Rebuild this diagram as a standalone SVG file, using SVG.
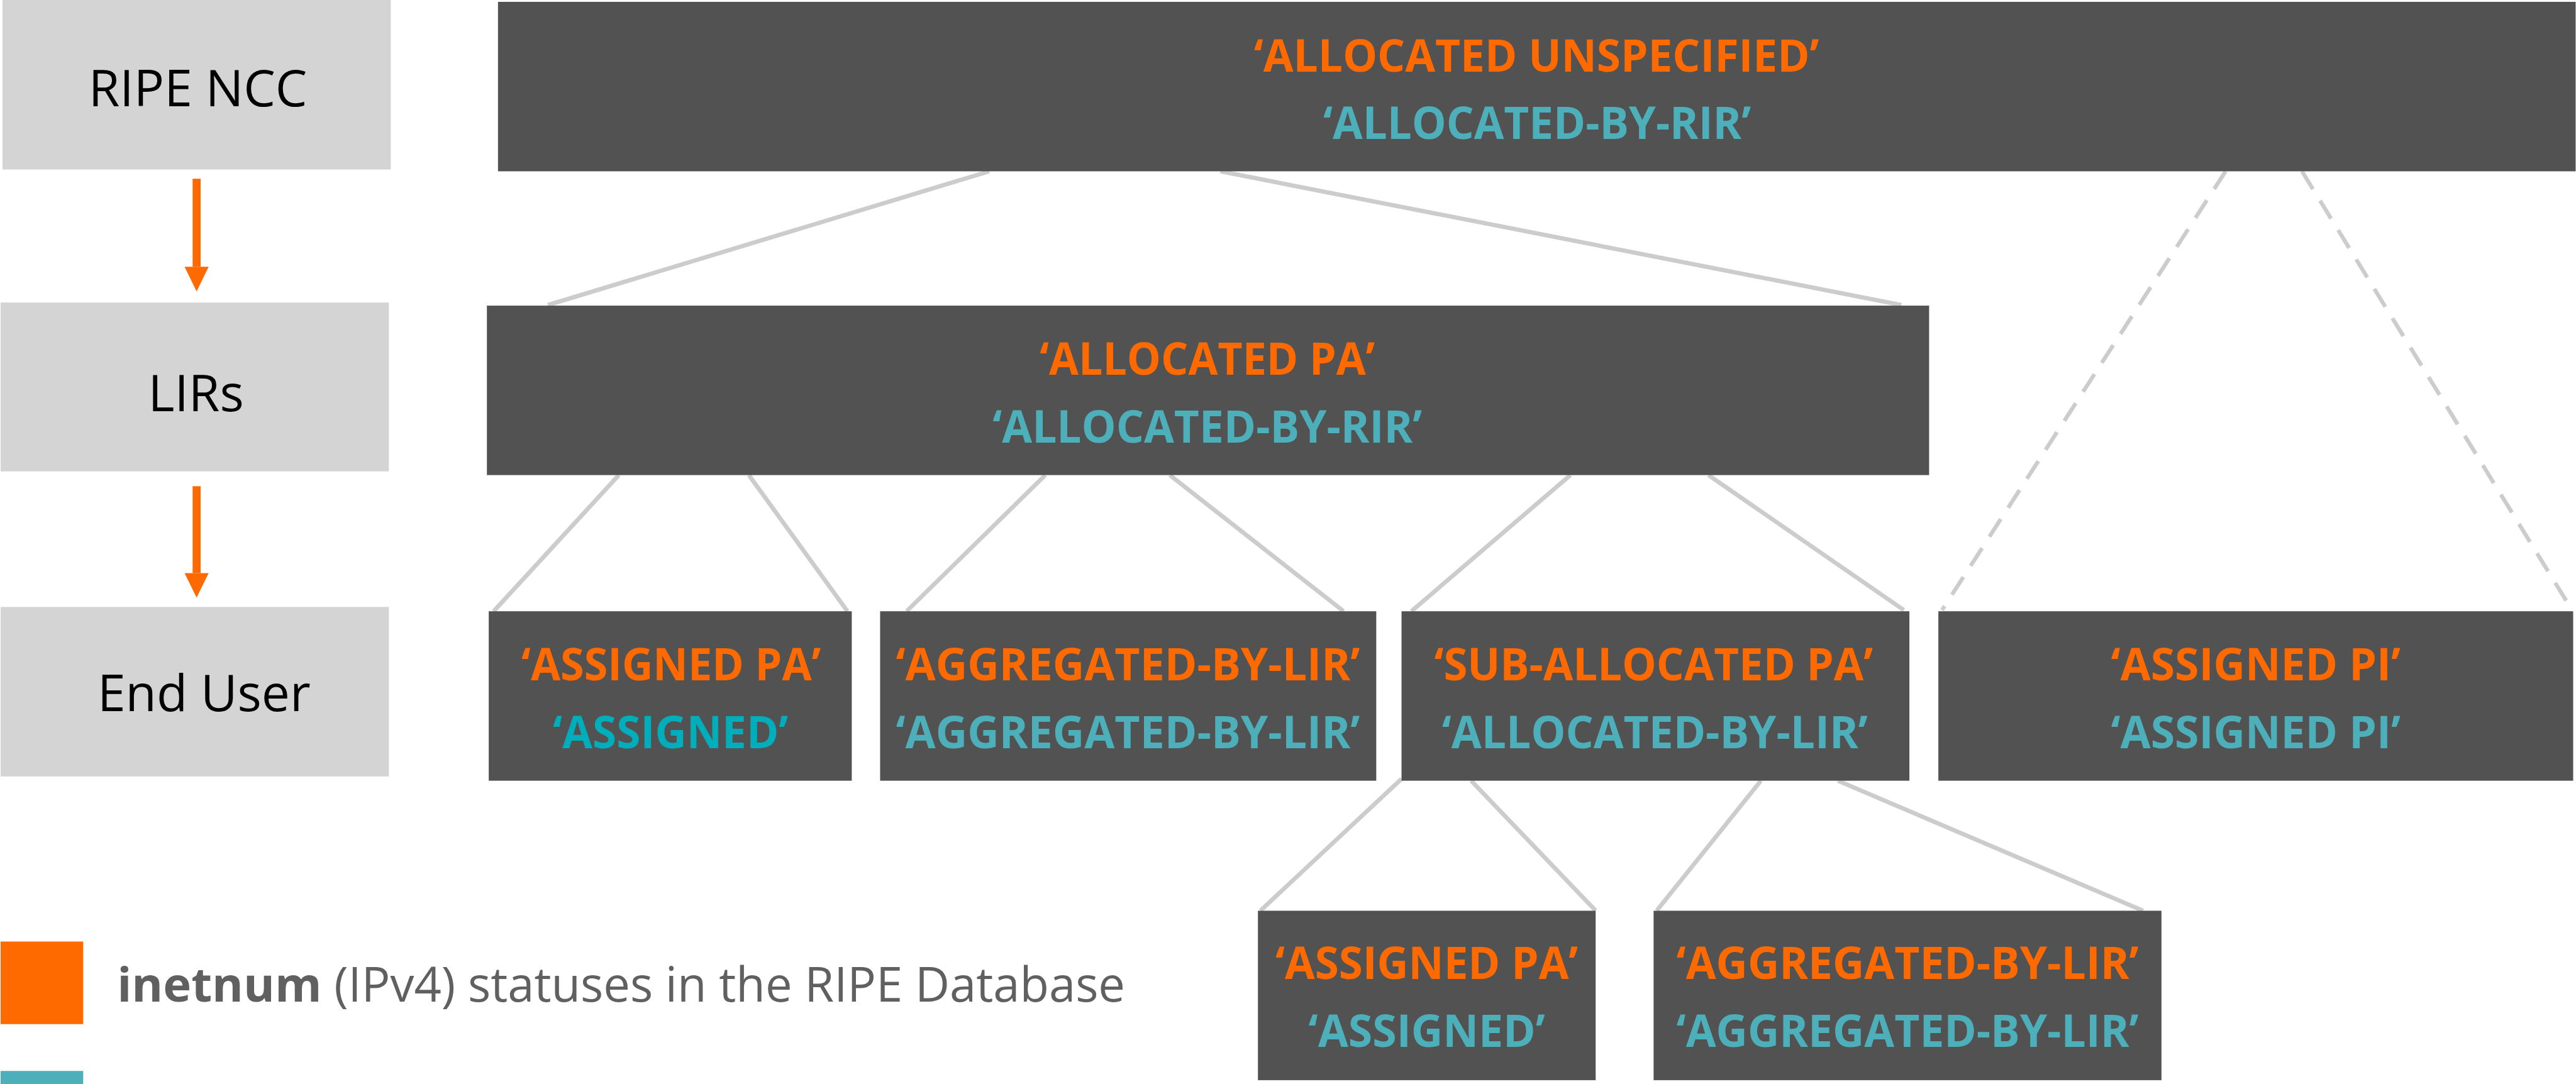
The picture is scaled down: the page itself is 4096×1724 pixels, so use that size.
<svg xmlns="http://www.w3.org/2000/svg" width="4096" height="1724" viewBox="0 0 4096 1724">
<style>
.tier{fill:#d4d4d4}
.tier-t{font-family:"Open Sans","Liberation Sans",sans-serif;font-size:82px;fill:#000;text-anchor:middle}
.box{fill:#525252}
.lbl{font-family:"Open Sans","Liberation Sans",sans-serif;font-weight:700;font-size:73px;text-anchor:middle}
.o{fill:#ff6a00}
.t{fill:#4cafba}
.c{fill:#00adbb}
.ln{stroke:#cccccc;stroke-width:7;fill:none}
.dash{stroke:#cccccc;stroke-width:6.5;fill:none;stroke-dasharray:34 22}
.arr{stroke:#ff6a00;stroke-width:13;fill:none}
.leg{font-family:"Open Sans","Liberation Sans",sans-serif;font-size:77.5px;fill:#606060}
</style>
<defs>
<marker id="ah" markerUnits="userSpaceOnUse" viewBox="0 -20 40 40" refX="0" refY="0" markerWidth="40" markerHeight="40" orient="auto" overflow="visible">
<path d="M0,-19.5 L40,0 L0,19.5 Z" fill="#ff6a00"/>
</marker>
</defs>
<rect width="4096" height="1724" fill="#ffffff"/>
<g transform="scale(0.98)">
<g id="connectors">
<line class="ln" x1="1605" y1="278" x2="889" y2="495"/>
<line class="ln" x1="1980" y1="278" x2="3085" y2="495"/>
<line class="dash" x1="3611" y1="278" x2="3151" y2="990"/>
<line class="dash" x1="3735" y1="278" x2="4173" y2="990"/>
<line class="ln" x1="1004" y1="771" x2="801" y2="992"/>
<line class="ln" x1="1215" y1="771" x2="1375" y2="992"/>
<line class="ln" x1="1696" y1="771" x2="1471" y2="992"/>
<line class="ln" x1="1898" y1="771" x2="2180" y2="992"/>
<line class="ln" x1="2548" y1="771" x2="2290" y2="992"/>
<line class="ln" x1="2772" y1="771" x2="3089" y2="990"/>
<line class="ln" x1="2274" y1="1264" x2="2045" y2="1478"/>
<line class="ln" x1="2387" y1="1267" x2="2589" y2="1478"/>
<line class="ln" x1="2857" y1="1267" x2="2688" y2="1478"/>
<line class="ln" x1="2982" y1="1267" x2="3477" y2="1478"/>
<line class="arr" x1="319" y1="290" x2="319" y2="433" marker-end="url(#ah)"/>
<line class="arr" x1="319" y1="789" x2="319" y2="930" marker-end="url(#ah)"/>
</g>
<g id="tier-ripe">
<rect class="tier" x="4" y="0" width="630" height="275"/>
<text class="tier-t" x="321" y="172">RIPE NCC</text>
</g>
<g id="tier-lirs">
<rect class="tier" x="1" y="491" width="630" height="274"/>
<text class="tier-t" x="318" y="667">LIRs</text>
</g>
<g id="tier-enduser">
<rect class="tier" x="1" y="985" width="630" height="275"/>
<text class="tier-t" x="331" y="1154">End User</text>
</g>
<g id="allocated-unspecified">
<rect class="box" x="808" y="3" width="3371" height="275"/>
<text class="lbl o" x="2493" y="116" textLength="917" lengthAdjust="spacingAndGlyphs">‘ALLOCATED UNSPECIFIED’</text>
<text class="lbl t" x="2494" y="225" textLength="694" lengthAdjust="spacingAndGlyphs">‘ALLOCATED-BY-RIR’</text>
</g>
<g id="allocated-pa">
<rect class="box" x="790" y="496" width="2340" height="275"/>
<text class="lbl o" x="1959" y="608" textLength="544" lengthAdjust="spacingAndGlyphs">‘ALLOCATED PA’</text>
<text class="lbl t" x="1959" y="718" textLength="697" lengthAdjust="spacingAndGlyphs">‘ALLOCATED-BY-RIR’</text>
</g>
<g id="assigned-pa-1">
<rect class="box" x="793" y="992" width="589" height="275"/>
<text class="lbl o" x="1089" y="1104" textLength="486" lengthAdjust="spacingAndGlyphs">‘ASSIGNED PA’</text>
<text class="lbl c" x="1088" y="1214" textLength="382" lengthAdjust="spacingAndGlyphs">‘ASSIGNED’</text>
</g>
<g id="aggregated-1">
<rect class="box" x="1428" y="992" width="805" height="275"/>
<text class="lbl o" x="1830" y="1104" textLength="753" lengthAdjust="spacingAndGlyphs">‘AGGREGATED-BY-LIR’</text>
<text class="lbl t" x="1830" y="1214" textLength="753" lengthAdjust="spacingAndGlyphs">‘AGGREGATED-BY-LIR’</text>
</g>
<g id="sub-allocated-pa">
<rect class="box" x="2274" y="992" width="824" height="275"/>
<text class="lbl o" x="2683" y="1104" textLength="712" lengthAdjust="spacingAndGlyphs">‘SUB-ALLOCATED PA’</text>
<text class="lbl t" x="2685" y="1214" textLength="691" lengthAdjust="spacingAndGlyphs">‘ALLOCATED-BY-LIR’</text>
</g>
<g id="assigned-pi">
<rect class="box" x="3145" y="992" width="1030" height="275"/>
<text class="lbl o" x="3660" y="1104" textLength="470" lengthAdjust="spacingAndGlyphs">‘ASSIGNED PI’</text>
<text class="lbl t" x="3660" y="1214" textLength="470" lengthAdjust="spacingAndGlyphs">‘ASSIGNED PI’</text>
</g>
<g id="assigned-pa-2">
<rect class="box" x="2041" y="1478" width="548" height="275"/>
<text class="lbl o" x="2315" y="1589" textLength="491" lengthAdjust="spacingAndGlyphs">‘ASSIGNED PA’</text>
<text class="lbl t" x="2315" y="1699" textLength="384" lengthAdjust="spacingAndGlyphs">‘ASSIGNED’</text>
</g>
<g id="aggregated-2">
<rect class="box" x="2683" y="1478" width="824" height="275"/>
<text class="lbl o" x="3095" y="1589" textLength="750" lengthAdjust="spacingAndGlyphs">‘AGGREGATED-BY-LIR’</text>
<text class="lbl t" x="3095" y="1699" textLength="750" lengthAdjust="spacingAndGlyphs">‘AGGREGATED-BY-LIR’</text>
</g>
<g id="legend">
<rect x="1" y="1528" width="134" height="134" fill="#ff6a00"/>
<rect x="1" y="1738" width="134" height="30" fill="#4cafba"/>
<text class="leg" x="190" y="1625"><tspan font-weight="700">inetnum</tspan> (IPv4) statuses in the RIPE Database</text>
</g>
</g>
</svg>
